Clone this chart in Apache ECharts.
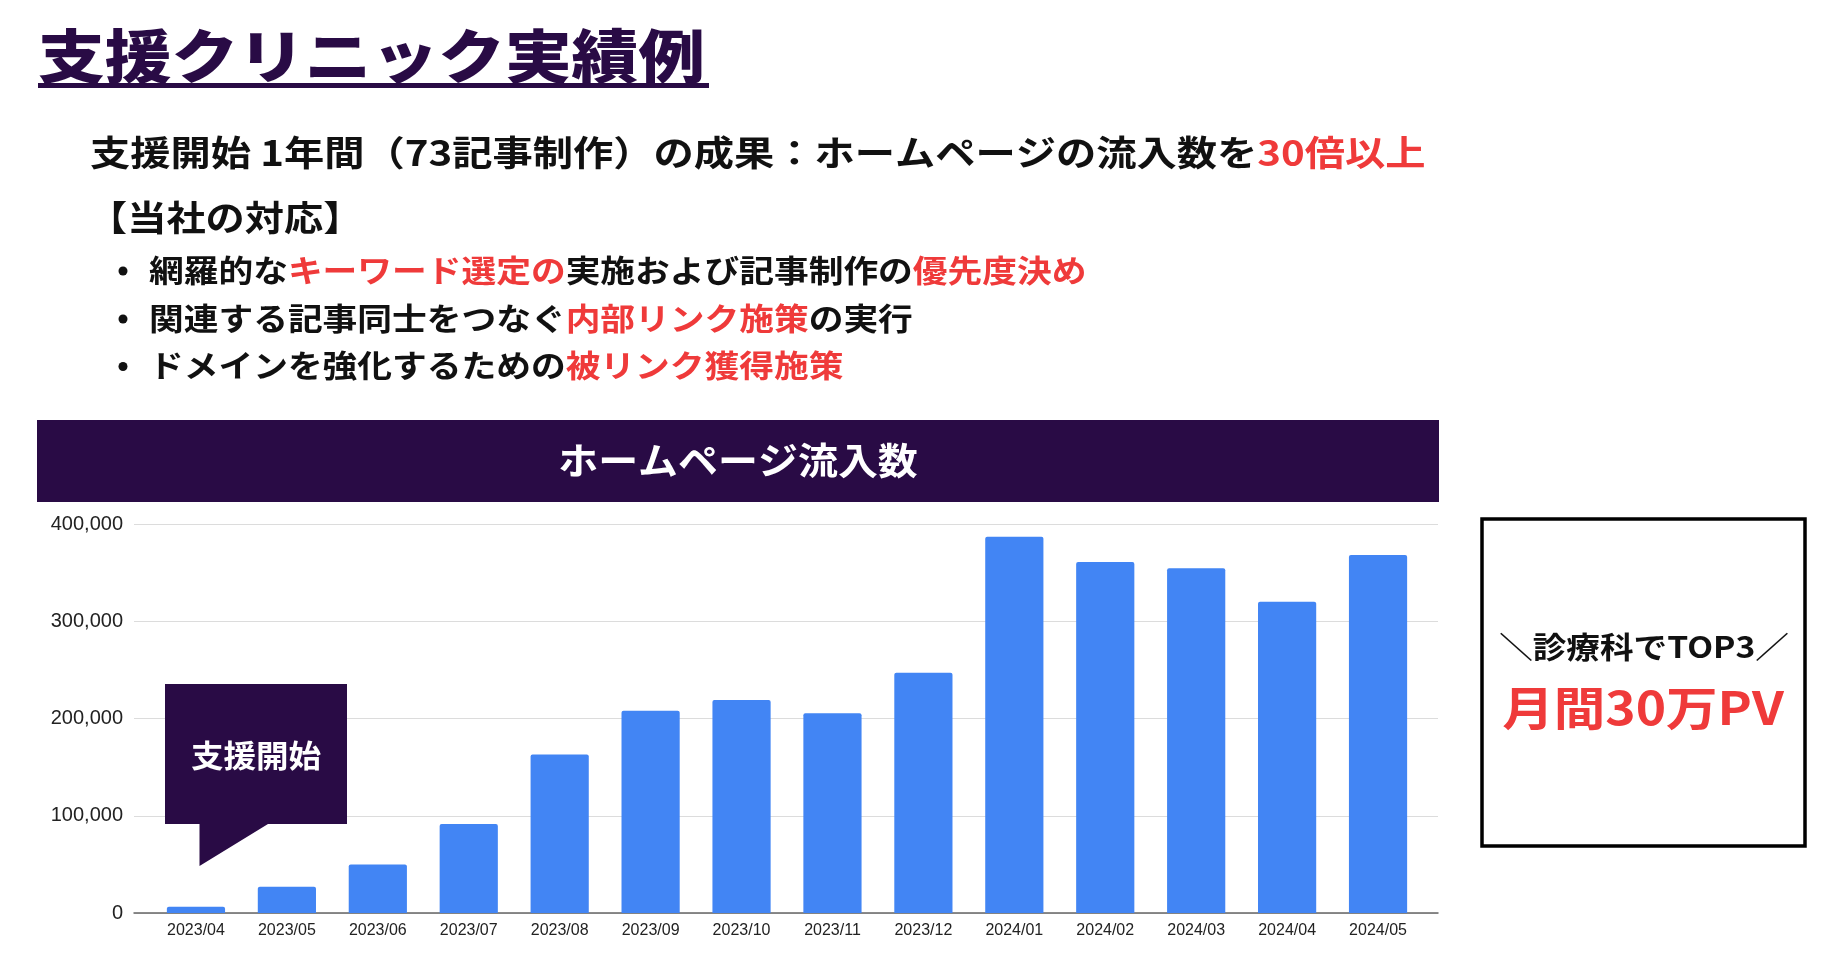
<!DOCTYPE html>
<html>
<head>
<meta charset="utf-8">
<script src="https://cdn.jsdelivr.net/npm/echarts@6/dist/echarts.min.js"></script>
<style>
  html, body { margin: 0; padding: 0; background: #fff; }
  #main { width: 1831px; height: 959px; }
</style>
</head>
<body>
<div id="main"></div>
<script>
// データ
const months = ['2023/04', '2023/05', '2023/06', '2023/07', '2023/08', '2023/09', '2023/10',
  '2023/11', '2023/12', '2024/01', '2024/02', '2024/03', '2024/04', '2024/05'];
const visits = [6500, 27000, 50000, 91500, 163000, 208000, 219000,
  205500, 247000, 387000, 361000, 354500, 320000, 368000];
const yMax = 400000;
const yStep = 100000;

const titleText = '支援クリニック実績例';
const leadText = ['支援開始 1年間（73記事制作）の成果：ホームページの流入数を', '30倍以上'];
const sectionText = '【当社の対応】';
// [黒, 赤, 黒, 赤] の順
const bullets = [
  ['網羅的な', 'キーワード選定の', '実施および記事制作の', '優先度決め'],
  ['関連する記事同士をつなぐ', '内部リンク施策', 'の実行', ''],
  ['ドメインを強化するための', '被リンク獲得施策', '', '']
];
const bannerText = 'ホームページ流入数';
const bubbleText = '支援開始';
const boxLine1 = '＼診療科でTOP3／';
const boxLine2 = '月間30万PV';

const DARK = '#290b45';
const RED = '#ef3a3a';
const JP = '"Noto Sans CJK JP", "Noto Sans", sans-serif';

let myChart = echarts.init(document.getElementById('main'));

function rich(parts) {
  let s = '';
  parts.forEach((p, i) => {
    if (p) s += '{' + (i % 2 ? 'r' : 'k') + '|' + p + '}';
  });
  return s;
}

let graphics = [
  // タイトル
  { type: 'text', x: 38, y: 56, scaleX: 1.15,
    style: { text: titleText, fill: DARK, font: '900 58px ' + JP, verticalAlign: 'middle' } },
  { type: 'rect', shape: { x: 38, y: 83, width: 671, height: 5 }, style: { fill: DARK } },
  // 成果
  { type: 'text', x: 90, y: 153, scaleX: 1.15,
    style: {
      text: '{k|' + leadText[0] + '}{r|' + leadText[1] + '}', verticalAlign: 'middle',
      rich: {
        k: { fill: '#111', font: 'bold 35px ' + JP },
        r: { fill: RED, font: 'bold 35px ' + JP }
      }
    } },
  { type: 'text', x: 88, y: 218, scaleX: 1.12,
    style: { text: sectionText, fill: '#111', font: 'bold 35px ' + JP, verticalAlign: 'middle' } },
  // バナー
  { type: 'rect', shape: { x: 37, y: 420, width: 1402, height: 82 }, style: { fill: DARK } },
  { type: 'text', x: 738, y: 461, scaleX: 1.08,
    style: { text: bannerText, fill: '#fff', font: 'bold 37px ' + JP, align: 'center', verticalAlign: 'middle' } },
  // 吹き出し
  { type: 'polygon', z: 10,
    shape: { points: [[165, 684], [347, 684], [347, 824], [268, 824], [199.5, 866], [199.5, 824], [165, 824]] },
    style: { fill: DARK } },
  { type: 'text', x: 256, y: 755, scaleX: 1.05, z: 11,
    style: { text: bubbleText, fill: '#fff', font: 'bold 31px ' + JP, align: 'center', verticalAlign: 'middle' } },
  // 右の枠
  { type: 'rect', shape: { x: 1482, y: 519, width: 323, height: 327 },
    style: { fill: 'none', stroke: '#000', lineWidth: 3.5 } },
  { type: 'text', x: 1644, y: 647, scaleX: 1.12,
    style: { text: boxLine1, fill: '#111', font: 'bold 30px ' + JP, align: 'center', verticalAlign: 'middle' } },
  { type: 'text', x: 1643, y: 708, scaleX: 1.12,
    style: { text: boxLine2, fill: RED, font: 'bold 46px ' + JP, align: 'center', verticalAlign: 'middle' } }
];

const bulletY = [270, 318, 365.5];
bullets.forEach((parts, i) => {
  graphics.push({ type: 'circle', shape: { cx: 123, cy: bulletY[i] + 1, r: 4.5 }, style: { fill: '#111' } });
  graphics.push({
    type: 'text', x: 149, y: bulletY[i], scaleX: 1.12,
    style: {
      text: rich(parts), verticalAlign: 'middle',
      rich: {
        k: { fill: '#111', font: 'bold 31px ' + JP },
        r: { fill: RED, font: 'bold 31px ' + JP }
      }
    }
  });
});

myChart.setOption({
  animation: false,
  backgroundColor: '#fff',
  grid: [
    // 目盛り線用
    { left: 134, top: 524, width: 1304, height: 389 },
    // 棒グラフ用
    { left: 150.5, top: 524, width: 1273, height: 389 }
  ],
  xAxis: [
    {
      type: 'category', gridIndex: 0, data: months,
      axisLine: { lineStyle: { color: '#666', width: 1.5 } },
      axisTick: { show: false }, axisLabel: { show: false }
    },
    {
      type: 'category', gridIndex: 1, data: months,
      axisLine: { show: false }, axisTick: { show: false },
      axisLabel: { color: '#222', fontSize: 16, fontFamily: 'Liberation Sans, Arial, sans-serif', margin: 10 }
    }
  ],
  yAxis: [
    {
      type: 'value', gridIndex: 0, min: 0, max: yMax, interval: yStep,
      axisLine: { show: false }, axisTick: { show: false },
      splitLine: { lineStyle: { color: '#dcdcdc', width: 1 } },
      axisLabel: {
        color: '#222', fontSize: 20, fontFamily: 'Liberation Sans, Arial, sans-serif', margin: 11,
        formatter: v => v.toLocaleString('en-US')
      }
    },
    {
      type: 'value', gridIndex: 1, min: 0, max: yMax, interval: yStep, show: false
    }
  ],
  series: [{
    type: 'bar',
    name: 'ホームページ流入数',
    xAxisIndex: 1, yAxisIndex: 1,
    data: visits,
    barCategoryGap: '36%',
    itemStyle: { color: '#4285f4', borderRadius: [2, 2, 0, 0] }
  }],
  graphic: graphics
});
</script>
</body>
</html>
